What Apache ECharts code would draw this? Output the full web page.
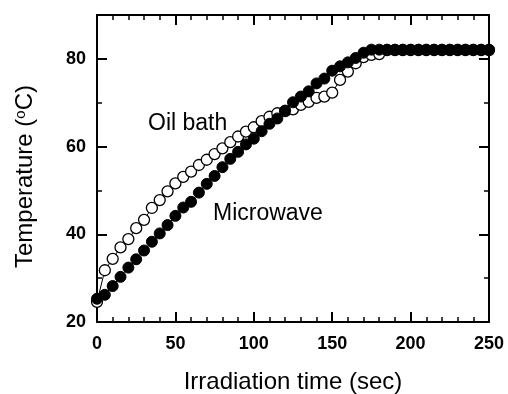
<!DOCTYPE html>
<html>
<head>
<meta charset="utf-8">
<script src="https://cdn.jsdelivr.net/npm/echarts@6/dist/echarts.min.js"></script>
<style>
  html, body { margin: 0; padding: 0; background: #fff; }
  #chart { width: 508px; height: 394px; }
</style>
</head>
<body>
<div id="chart"></div>
<script>
// irradiation time (sec), one point every 5 s
const times = [];
for (let t = 0; t <= 250; t += 5) times.push(t);

const microwave = [
  25.3, 26.2, 28.2, 30.3, 32.4, 34.3, 36.3, 38.3, 40.2, 42.1,
  44.2, 46.1, 47.4, 49.5, 51.5, 53.3, 55.3, 57.2, 58.8, 60.5,
  61.8, 63.5, 65.2, 66.4, 68.2, 70.1, 71.4, 72.6, 74.4, 75.5,
  77.3, 78.3, 79.2, 80.2, 81.4, 82.1, 82.1, 82.1, 82.1, 82.1,
  82.1, 82.1, 82.1, 82.1, 82.1, 82.1, 82.1, 82.1, 82.1, 82.1, 82.1
];

const oilBath = [
  24.6, 31.8, 34.4, 37.0, 38.9, 41.4, 43.3, 46.0, 47.8, 49.8,
  51.6, 53.1, 54.3, 55.8, 57.0, 58.3, 59.6, 61.0, 62.3, 63.4,
  64.4, 65.8, 66.8, 67.6, 68.1, 68.5, 69.5, 70.2, 71.1, 71.4,
  72.3, 75.2, 77.1, 79.0, 80.4, 80.9, 81.1, 82.0, 82.0, 82.0,
  82.0, 82.0, 82.0, 82.0, 82.0, 82.0, 82.0, 82.0, 82.0, 82.0, 82.0
];

const xTicks = [0, 50, 100, 150, 200, 250];
const yTicks = [20, 40, 60, 80];

const font = 'Liberation Sans, Arial, sans-serif';

const pairs = (vals) => times.map((t, i) => [t, vals[i]]);

const axisBase = {
  axisLine: { show: true, onZero: false, lineStyle: { color: '#000', width: 2 } },
  axisTick: { show: true, inside: true, length: 10, lineStyle: { color: '#000', width: 2 } },
  minorTick: { show: true, length: 5, lineStyle: { color: '#000', width: 1.5 } },
  splitLine: { show: false },
};

const chart = echarts.init(document.getElementById('chart'), null, { renderer: 'canvas' });

chart.setOption({
  animation: false,
  backgroundColor: '#fff',
  grid: { left: 97, right: 19, top: 15, bottom: 72, containLabel: false, outerBoundsMode: 'none' },
  xAxis: [
    Object.assign({}, axisBase, {
      type: 'value', min: 0, max: 250, interval: 50,
      minorTick: Object.assign({}, axisBase.minorTick, { splitNumber: 5 }),
      name: 'Irradiation time (sec)',
      nameLocation: 'middle', nameGap: 48,
      nameTextStyle: { fontFamily: font, fontSize: 24, color: '#000' },
      axisLabel: {
        margin: 13, fontFamily: font, fontSize: 18, fontWeight: 'bold', color: '#000',
        formatter: (v) => (xTicks.indexOf(v) >= 0 ? String(v) : ''),
      },
    }),
    Object.assign({}, axisBase, {
      type: 'value', min: 0, max: 250, interval: 50, position: 'top',
      minorTick: Object.assign({}, axisBase.minorTick, { splitNumber: 5 }),
      axisLabel: { show: false },
    }),
  ],
  yAxis: [
    Object.assign({}, axisBase, {
      type: 'value', min: 20, max: 90, interval: 20,
      minorTick: Object.assign({}, axisBase.minorTick, { splitNumber: 2 }),
      name: 'Temperature ({sup|o}C)',
      nameLocation: 'middle', nameGap: 60, nameRotate: 90,
      nameTextStyle: {
        fontFamily: font, fontSize: 24, color: '#000', padding: [0, 16, 0, 0],
        rich: { sup: { fontFamily: font, fontSize: 15, color: '#000', verticalAlign: 'top', padding: [0, 0, 8, 0] } },
      },
      axisLabel: {
        margin: 11, fontFamily: font, fontSize: 18, fontWeight: 'bold', color: '#000',
        showMaxLabel: false,
        formatter: (v) => (yTicks.indexOf(v) >= 0 ? String(v) : ''),
      },
    }),
    Object.assign({}, axisBase, {
      type: 'value', min: 20, max: 90, interval: 20, position: 'right',
      minorTick: Object.assign({}, axisBase.minorTick, { splitNumber: 2 }),
      axisLabel: { show: false },
    }),
  ],
  series: [
    {
      name: 'Oil bath',
      type: 'line',
      data: pairs(oilBath),
      symbol: 'circle',
      symbolSize: 11,
      showAllSymbol: true,
      itemStyle: { color: '#fff', borderColor: '#000', borderWidth: 1.3 },
      lineStyle: { color: '#000', width: 1 },
      z: 2,
    },
    {
      name: 'Microwave',
      type: 'line',
      data: pairs(microwave),
      symbol: 'circle',
      symbolSize: 11,
      showAllSymbol: true,
      itemStyle: { color: '#000', borderColor: '#000', borderWidth: 1 },
      lineStyle: { color: '#000', width: 1 },
      z: 3,
    },
  ],
  graphic: [
    { type: 'text', left: 148, top: 112, style: { text: 'Oil bath', fontFamily: font, fontSize: 23, fill: '#000' } },
    { type: 'text', left: 213, top: 202, style: { text: 'Microwave', fontFamily: font, fontSize: 23, fill: '#000' } },
  ],
});
</script>
</body>
</html>
